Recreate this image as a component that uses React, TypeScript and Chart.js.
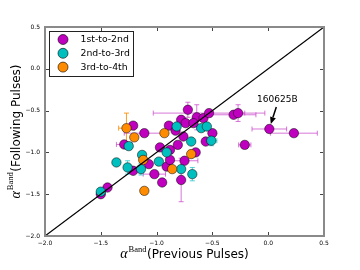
import React, { useEffect, useRef } from "react";
import { Chart, registerables } from "chart.js";
Chart.register(...registerables);

const seriesNames = ["1st-to-2nd", "2nd-to-3rd", "3rd-to-4th"];
const seriesColors = ["#bf00bf", "#00bfbf", "#ff8c00"];
const errColors = ["rgba(200,60,200,0.7)", "rgba(40,200,200,0.8)", "rgba(255,140,0,0.85)"];

const tickVals = [-2.0, -1.5, -1.0, -0.5, 0.0, 0.5];

// 1st-to-2nd (magenta)
const m_x = [-1.21, -1.11, -1.29, -1.21, -1.07, -1.02, -0.95, -1.44, -1.5, -0.97, -0.88, -0.81, -0.91, -0.88, -0.89, -0.83, -0.78, -0.72, -0.64, -0.58, -0.53, -0.31, -0.27, 0.01, 0.23, -0.21, -0.74, -0.67, -0.5, -0.56, -0.76, -0.65, -0.75, -0.78];
const m_y = [-0.68, -0.77, -0.905, -1.22, -1.14, -1.26, -1.36, -1.42, -1.5, -0.94, -0.97, -0.91, -1.17, -1.09, -0.68, -0.74, -0.61, -0.49, -0.58, -0.59, -0.53, -0.55, -0.53, -0.72, -0.77, -0.91, -0.65, -0.65, -0.77, -0.87, -0.81, -1.0, -1.1, -1.33];
const m_xerr = [0, 0.18, 0.07, 0, 0, 0.1, 0, 0, 0, 0, 0, 0, 0, 0, 0, 0, 0, 0, 0, 0, 0.5, 0.2, 0.06, 0.155, 0.21, 0.055, 0, 0, 0, 0, 0, 0, 0.12, 0];
const m_yerr = [0, 0, 0, 0, 0, 0, 0, 0, 0, 0, 0, 0, 0, 0, 0, 0, 0, 0.09, 0.15, 0, 0, 0, 0.1, 0, 0, 0, 0, 0, 0, 0, 0, 0, 0, 0.26];

// 2nd-to-3rd (cyan)
const c_x = [-1.25, -1.36, -1.13, -1.26, -1.14, -0.98, -0.91, -1.5, -0.6, -0.55, -0.69, -0.51, -0.78, -0.68, -0.82];
const c_y = [-0.925, -1.12, -1.03, -1.18, -1.2, -1.11, -1.0, -1.47, -0.71, -0.69, -0.87, -0.86, -1.2, -1.26, -0.69];
const c_xerr = [0, 0, 0, 0, 0, 0, 0, 0, 0, 0, 0, 0.05, 0, 0, 0];
const c_yerr = [0, 0, 0, 0.08, 0.07, 0, 0, 0, 0, 0, 0, 0.06, 0, 0.08, 0];

// 3rd-to-4th (orange)
const o_x = [-1.27, -1.2, -0.93, -1.12, -0.86, -1.11, -0.69];
const o_y = [-0.71, -0.82, -0.77, -1.09, -1.2, -1.46, -1.02];
const o_xerr = [0.07, 0, 0, 0, 0, 0, 0];
const o_yerr = [0.18, 0, 0, 0, 0, 0, 0];

const diagX = [-2.0, 0.5];

const annotText = "160625B";
const annotX = 0.01;
const annotY = -0.72;

const groups = [
  { x: m_x, y: m_y, xe: m_xerr, ye: m_yerr },
  { x: c_x, y: c_y, xe: c_xerr, ye: c_yerr },
  { x: o_x, y: o_y, xe: o_xerr, ye: o_yerr },
];

const fmt = (v: number) => {
  const s = Math.abs(v).toFixed(1);
  return v < -1e-9 ? "\u2212" + s : s;
};

const decor = {
  id: "decor",
  beforeDatasetsDraw(chart: any) {
    const xs = chart.scales.x, ys = chart.scales.y;
    const ctx = chart.ctx;
    ctx.save();
    groups.forEach((g, gi) => {
      ctx.strokeStyle = errColors[gi];
      ctx.lineWidth = 1;
      for (let i = 0; i < g.x.length; i++) {
        const px = xs.getPixelForValue(g.x[i]);
        const py = ys.getPixelForValue(g.y[i]);
        const cap = 2.5;
        if (g.xe[i] > 0) {
          const a = xs.getPixelForValue(g.x[i] - g.xe[i]);
          const b = xs.getPixelForValue(g.x[i] + g.xe[i]);
          ctx.beginPath();
          ctx.moveTo(a, py); ctx.lineTo(b, py);
          ctx.moveTo(a, py - cap); ctx.lineTo(a, py + cap);
          ctx.moveTo(b, py - cap); ctx.lineTo(b, py + cap);
          ctx.stroke();
        }
        if (g.ye[i] > 0) {
          const a = ys.getPixelForValue(g.y[i] - g.ye[i]);
          const b = ys.getPixelForValue(g.y[i] + g.ye[i]);
          ctx.beginPath();
          ctx.moveTo(px, a); ctx.lineTo(px, b);
          ctx.moveTo(px - cap, a); ctx.lineTo(px + cap, a);
          ctx.moveTo(px - cap, b); ctx.lineTo(px + cap, b);
          ctx.stroke();
        }
      }
    });
    ctx.restore();
  },
  afterDraw(chart: any) {
    const ctx = chart.ctx;
    const a = chart.chartArea;
    const xs = chart.scales.x, ys = chart.scales.y;
    ctx.save();
    // ticks (inward, all four sides)
    ctx.strokeStyle = "#444";
    ctx.lineWidth = 1;
    const tl = 4;
    ctx.beginPath();
    tickVals.forEach((v) => {
      const px = Math.round(xs.getPixelForValue(v)) + 0.5;
      ctx.moveTo(px, a.bottom); ctx.lineTo(px, a.bottom - tl);
      ctx.moveTo(px, a.top); ctx.lineTo(px, a.top + tl);
      const py = Math.round(ys.getPixelForValue(v)) + 0.5;
      ctx.moveTo(a.left, py); ctx.lineTo(a.left + tl, py);
      ctx.moveTo(a.right, py); ctx.lineTo(a.right - tl, py);
    });
    ctx.stroke();
    // frame
    ctx.strokeStyle = "#8a8a8a";
    ctx.lineWidth = 2;
    ctx.strokeRect(a.left, a.top, a.right - a.left, a.bottom - a.top);

    // legend
    const lx = a.left + 4.5, ly = a.top + 4.5, lw = 84, lh = 45;
    ctx.fillStyle = "#fff";
    ctx.fillRect(lx, ly, lw, lh);
    ctx.strokeStyle = "#222";
    ctx.lineWidth = 1;
    ctx.strokeRect(lx, ly, lw, lh);
    ctx.font = "9.3px 'DejaVu Sans'";
    ctx.textBaseline = "middle";
    ctx.textAlign = "left";
    seriesNames.forEach((n, i) => {
      const cy = ly + 8 + i * 13.8;
      ctx.beginPath();
      ctx.arc(lx + 13.5, cy, 5, 0, Math.PI * 2);
      ctx.fillStyle = seriesColors[i];
      ctx.fill();
      ctx.strokeStyle = "rgba(0,0,0,0.75)";
      ctx.lineWidth = 0.8;
      ctx.stroke();
      ctx.fillStyle = "#000";
      ctx.fillText(n, lx + 31, cy + 0.5);
    });

    // annotation
    const apx = xs.getPixelForValue(annotX);
    const apy = ys.getPixelForValue(annotY);
    ctx.fillStyle = "#000";
    ctx.font = "9px 'DejaVu Sans'";
    ctx.textAlign = "center";
    ctx.textBaseline = "middle";
    ctx.fillText(annotText, apx + 8, apy - 29);
    const sx = apx + 7, sy = apy - 22, tx = apx + 1.5, ty = apy - 5;
    const ang = Math.atan2(ty - sy, tx - sx);
    const hl = 7, hw = 3;
    const bx = tx - hl * Math.cos(ang), by = ty - hl * Math.sin(ang);
    ctx.strokeStyle = "#000";
    ctx.lineWidth = 1.5;
    ctx.beginPath();
    ctx.moveTo(sx, sy); ctx.lineTo(bx, by);
    ctx.stroke();
    ctx.beginPath();
    ctx.moveTo(tx, ty);
    ctx.lineTo(bx + hw * Math.sin(ang), by - hw * Math.cos(ang));
    ctx.lineTo(bx - hw * Math.sin(ang), by + hw * Math.cos(ang));
    ctx.closePath();
    ctx.fill();

    // axis titles
    const drawTitle = (rest: string) => {
      const f1 = "italic 14px 'Liberation Serif'";
      const f2 = "8.5px 'Liberation Serif'";
      const f3 = "12px 'DejaVu Sans'";
      ctx.font = f1; const w1 = ctx.measureText("\u03b1").width;
      ctx.font = f2; const w2 = ctx.measureText("Band").width;
      ctx.font = f3; const w3 = ctx.measureText(rest).width;
      const tot = w1 + 1 + w2 + 0.5 + w3;
      let x = -tot / 2;
      ctx.textAlign = "left";
      ctx.textBaseline = "alphabetic";
      ctx.fillStyle = "#000";
      ctx.font = f1; ctx.fillText("\u03b1", x, 0); x += w1 + 1;
      ctx.font = f2; ctx.fillText("Band", x, -6.5); x += w2 + 0.5;
      ctx.font = f3; ctx.fillText(rest, x, 0);
    };
    ctx.save();
    ctx.translate((a.left + a.right) / 2, 258);
    drawTitle("(Previous Pulses)");
    ctx.restore();
    ctx.save();
    ctx.translate(19.5, (a.top + a.bottom) / 2);
    ctx.rotate(-Math.PI / 2);
    drawTitle("(Following Pulses)");
    ctx.restore();

    ctx.restore();
  },
};

const mkData = (xs: number[], ys: number[]) => xs.map((v, i) => ({ x: v, y: ys[i] }));

export default function App() {
  const ref = useRef<HTMLCanvasElement>(null);
  useEffect(() => {
    if (!ref.current) return;
    const pt = (i: number, ord: number, xs: number[], ys: number[]) => ({
      type: "scatter" as const,
      label: seriesNames[i],
      data: mkData(xs, ys),
      backgroundColor: seriesColors[i],
      borderColor: "rgba(0,0,0,0.7)",
      borderWidth: 0.7,
      pointRadius: 4.7,
      order: ord,
    });
    const chart = new Chart(ref.current, {
      type: "scatter",
      data: {
        datasets: [
          {
            type: "line" as const,
            label: "diag",
            data: mkData(diagX, diagX),
            borderColor: "#000",
            borderWidth: 1.2,
            pointRadius: 0,
            showLine: true,
            fill: false,
            order: 0,
          } as any,
          pt(2, 1, o_x, o_y),
          pt(1, 2, c_x, c_y),
          pt(0, 3, m_x, m_y),
        ],
      },
      options: {
        responsive: false,
        animation: false,
        events: [],
        layout: { padding: { left: 0, top: 27, right: 36, bottom: 0 } },
        plugins: { legend: { display: false }, tooltip: { enabled: false }, title: { display: false } },
        scales: {
          x: {
            type: "linear",
            min: -2,
            max: 0.5,
            afterFit: (s: any) => { s.height = 34; },
            afterBuildTicks: (s: any) => { s.ticks = tickVals.map((v) => ({ value: v })); },
            grid: { display: false, drawTicks: false },
            border: { display: false },
            ticks: { font: { size: 6, family: "'DejaVu Sans'" }, color: "#000", padding: 4, maxRotation: 0, autoSkip: false, callback: (v: any) => fmt(Number(v)) },
          },
          y: {
            type: "linear",
            min: -2,
            max: 0.5,
            afterFit: (s: any) => { s.width = 45; },
            afterBuildTicks: (s: any) => { s.ticks = tickVals.map((v) => ({ value: v })); },
            grid: { display: false, drawTicks: false },
            border: { display: false },
            ticks: { font: { size: 6, family: "'DejaVu Sans'" }, color: "#000", padding: 5, autoSkip: false, callback: (v: any) => fmt(Number(v)) },
          },
        },
      },
      plugins: [decor],
    });
    return () => chart.destroy();
  }, []);
  return (
    <div style={{ position: "absolute", left: 0, top: 0, width: 360, height: 270, background: "#fff" }}>
      <canvas ref={ref} width={360} height={270} />
    </div>
  );
}
